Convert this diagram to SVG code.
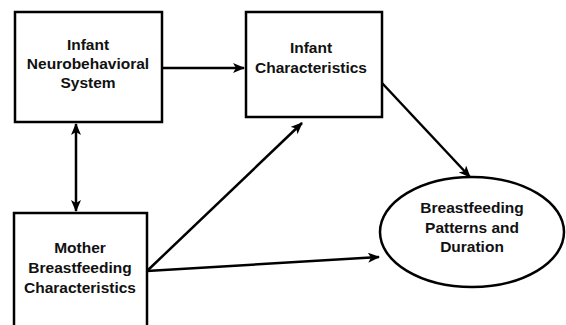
<svg xmlns="http://www.w3.org/2000/svg" width="566" height="325" viewBox="0 0 566 325">
<style>
.box{fill:#fff;stroke:#000;stroke-width:2.5}
.t{font-family:"Liberation Sans",Arial,sans-serif;font-weight:bold;font-size:15.5px;text-anchor:middle;fill:#111}
.c{stroke:#000;stroke-width:2.5;fill:none}
</style>
<defs>
<marker id="ah" viewBox="0 0 12 10" refX="11" refY="5" markerWidth="12" markerHeight="10" markerUnits="userSpaceOnUse" orient="auto-start-reverse">
<path d="M0,0 L12,5 L0,10 L3,5 Z" fill="#000"/>
</marker>
</defs>
<rect width="566" height="325" fill="#fff"/>
<g id="connectors">
<line class="c" x1="163" y1="68" x2="244" y2="68" marker-end="url(#ah)"/>
<line class="c" x1="76" y1="124" x2="76" y2="211" marker-start="url(#ah)" marker-end="url(#ah)"/>
<line class="c" x1="382" y1="83" x2="470" y2="177" marker-end="url(#ah)"/>
<line class="c" x1="147" y1="271" x2="302" y2="123" marker-end="url(#ah)"/>
<line class="c" x1="147" y1="271" x2="379" y2="257" marker-end="url(#ah)"/>
</g>
<g id="infant-neuro">
<rect class="box" x="15" y="12" width="147" height="110"/>
<text class="t" x="88" y="50">Infant</text>
<text class="t" x="88" y="69">Neurobehavioral</text>
<text class="t" x="88" y="88">System</text>
</g>
<g id="infant-char">
<rect class="box" x="246" y="12" width="136" height="105"/>
<text class="t" x="311" y="53">Infant</text>
<text class="t" x="311" y="73">Characteristics</text>
</g>
<g id="mother">
<rect class="box" x="14" y="213" width="133" height="120"/>
<text class="t" x="80" y="253">Mother</text>
<text class="t" x="80" y="273">Breastfeeding</text>
<text class="t" x="80" y="293">Characteristics</text>
</g>
<g id="outcome">
<ellipse class="box" cx="472" cy="232" rx="92" ry="55"/>
<text class="t" x="472" y="213">Breastfeeding</text>
<text class="t" x="472" y="233">Patterns and</text>
<text class="t" x="472" y="252">Duration</text>
</g>
</svg>
